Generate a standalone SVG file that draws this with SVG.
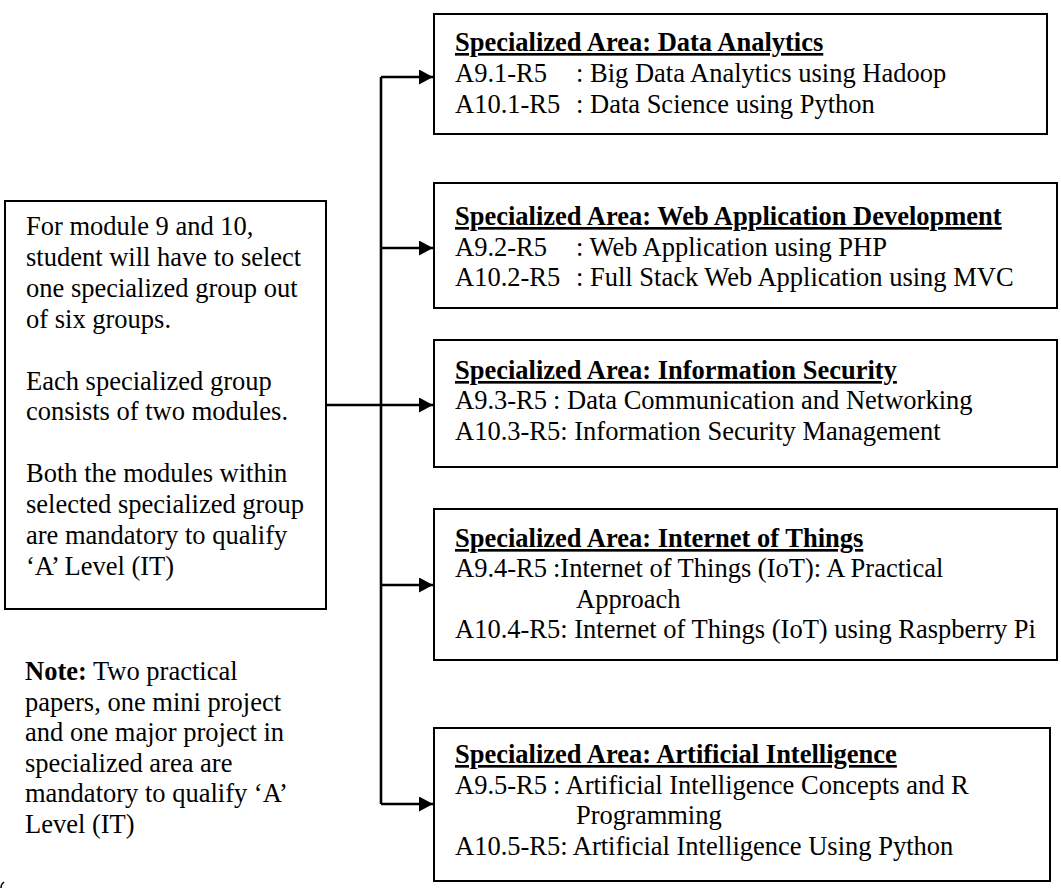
<svg xmlns="http://www.w3.org/2000/svg" width="1061" height="888" viewBox="0 0 1061 888">
<style>
.box{fill:#fff;stroke:#000;stroke-width:2}
.t{font-family:"Liberation Serif","Times New Roman",serif;font-size:26.5px;fill:#000}
.h{font-weight:bold;text-decoration:underline}
.b{font-weight:bold}
.c{fill:none;stroke:#000;stroke-width:2.6}
</style>
<defs>
<marker id="ah" markerUnits="userSpaceOnUse" markerWidth="15" markerHeight="16" refX="14" refY="7.5" orient="auto">
<path d="M0,0 L14,7.5 L0,15 z" fill="#000"/>
</marker>
</defs>
<rect width="1061" height="888" fill="#fff"/>
<g id="connectors">
<path class="c" d="M381,77 L381,804"/>
<path class="c" d="M326,405 L381,405"/>
<path class="c" d="M381,77 L433,77" marker-end="url(#ah)"/>
<path class="c" d="M381,248 L433,248" marker-end="url(#ah)"/>
<path class="c" d="M381,405 L433,405" marker-end="url(#ah)"/>
<path class="c" d="M381,585 L433,585" marker-end="url(#ah)"/>
<path class="c" d="M381,804 L433,804" marker-end="url(#ah)"/>
</g>
<g id="intro">
<rect class="box" x="5" y="201" width="321" height="408"/>
<text class="t" x="26" y="235">For module 9 and 10,</text>
<text class="t" x="26" y="265.9">student will have to select</text>
<text class="t" x="26" y="296.8">one specialized group out</text>
<text class="t" x="26" y="327.7">of six groups.</text>
<text class="t" x="26" y="389.5">Each specialized group</text>
<text class="t" x="26" y="420.4">consists of two modules.</text>
<text class="t" x="26" y="482.2">Both the modules within</text>
<text class="t" x="26" y="513.1">selected specialized group</text>
<text class="t" x="26" y="544">are mandatory to qualify</text>
<text class="t" x="26" y="574.9">‘A’ Level (IT)</text>
</g>
<g id="note">
<text class="t" x="25" y="680"><tspan class="b">Note:</tspan> Two practical</text>
<text class="t" x="25" y="710.5">papers, one mini project</text>
<text class="t" x="25" y="741">and one major project in</text>
<text class="t" x="25" y="771.5">specialized area are</text>
<text class="t" x="25" y="802">mandatory to qualify ‘A’</text>
<text class="t" x="25" y="832.5">Level (IT)</text>
</g>
<g id="data-analytics">
<rect class="box" x="434" y="14" width="613" height="120"/>
<text class="t h" x="455" y="51">Specialized Area: Data Analytics</text>
<text class="t" x="455" y="82">A9.1-R5</text>
<text class="t" x="576" y="82">: Big Data Analytics using Hadoop</text>
<text class="t" x="455" y="113">A10.1-R5</text>
<text class="t" x="576" y="113">: Data Science using Python</text>
</g>
<g id="web-app">
<rect class="box" x="434" y="183" width="623" height="125"/>
<text class="t h" x="455" y="225">Specialized Area: Web Application Development</text>
<text class="t" x="455" y="256">A9.2-R5</text>
<text class="t" x="576" y="256">: Web Application using PHP</text>
<text class="t" x="455" y="286">A10.2-R5</text>
<text class="t" x="576" y="286">: Full Stack Web Application using MVC</text>
</g>
<g id="info-sec">
<rect class="box" x="434" y="340" width="623" height="127"/>
<text class="t h" x="455" y="379">Specialized Area: Information Security</text>
<text class="t" x="455" y="409">A9.3-R5</text>
<text class="t" x="553" y="409">: Data Communication and Networking</text>
<text class="t" x="455" y="440">A10.3-R5: Information Security Management</text>
</g>
<g id="iot">
<rect class="box" x="434" y="509" width="623" height="151"/>
<text class="t h" x="455" y="547">Specialized Area: Internet of Things</text>
<text class="t" x="455" y="577">A9.4-R5</text>
<text class="t" x="553" y="577">:Internet of Things (IoT): A Practical</text>
<text class="t" x="576" y="608">Approach</text>
<text class="t" x="455" y="638">A10.4-R5: Internet of Things (IoT) using Raspberry Pi</text>
</g>
<g id="ai">
<rect class="box" x="434" y="728" width="616" height="153"/>
<text class="t h" x="455" y="763">Specialized Area: Artificial Intelligence</text>
<text class="t" x="455" y="794">A9.5-R5</text>
<text class="t" x="553" y="794">: Artificial Intelligence Concepts and  R</text>
<text class="t" x="576" y="824">Programming</text>
<text class="t" x="455" y="855">A10.5-R5: Artificial Intelligence Using Python</text>
</g>
<path d="M1,888 Q1,884 4,882" fill="none" stroke="#000" stroke-width="1.5"/>
</svg>
